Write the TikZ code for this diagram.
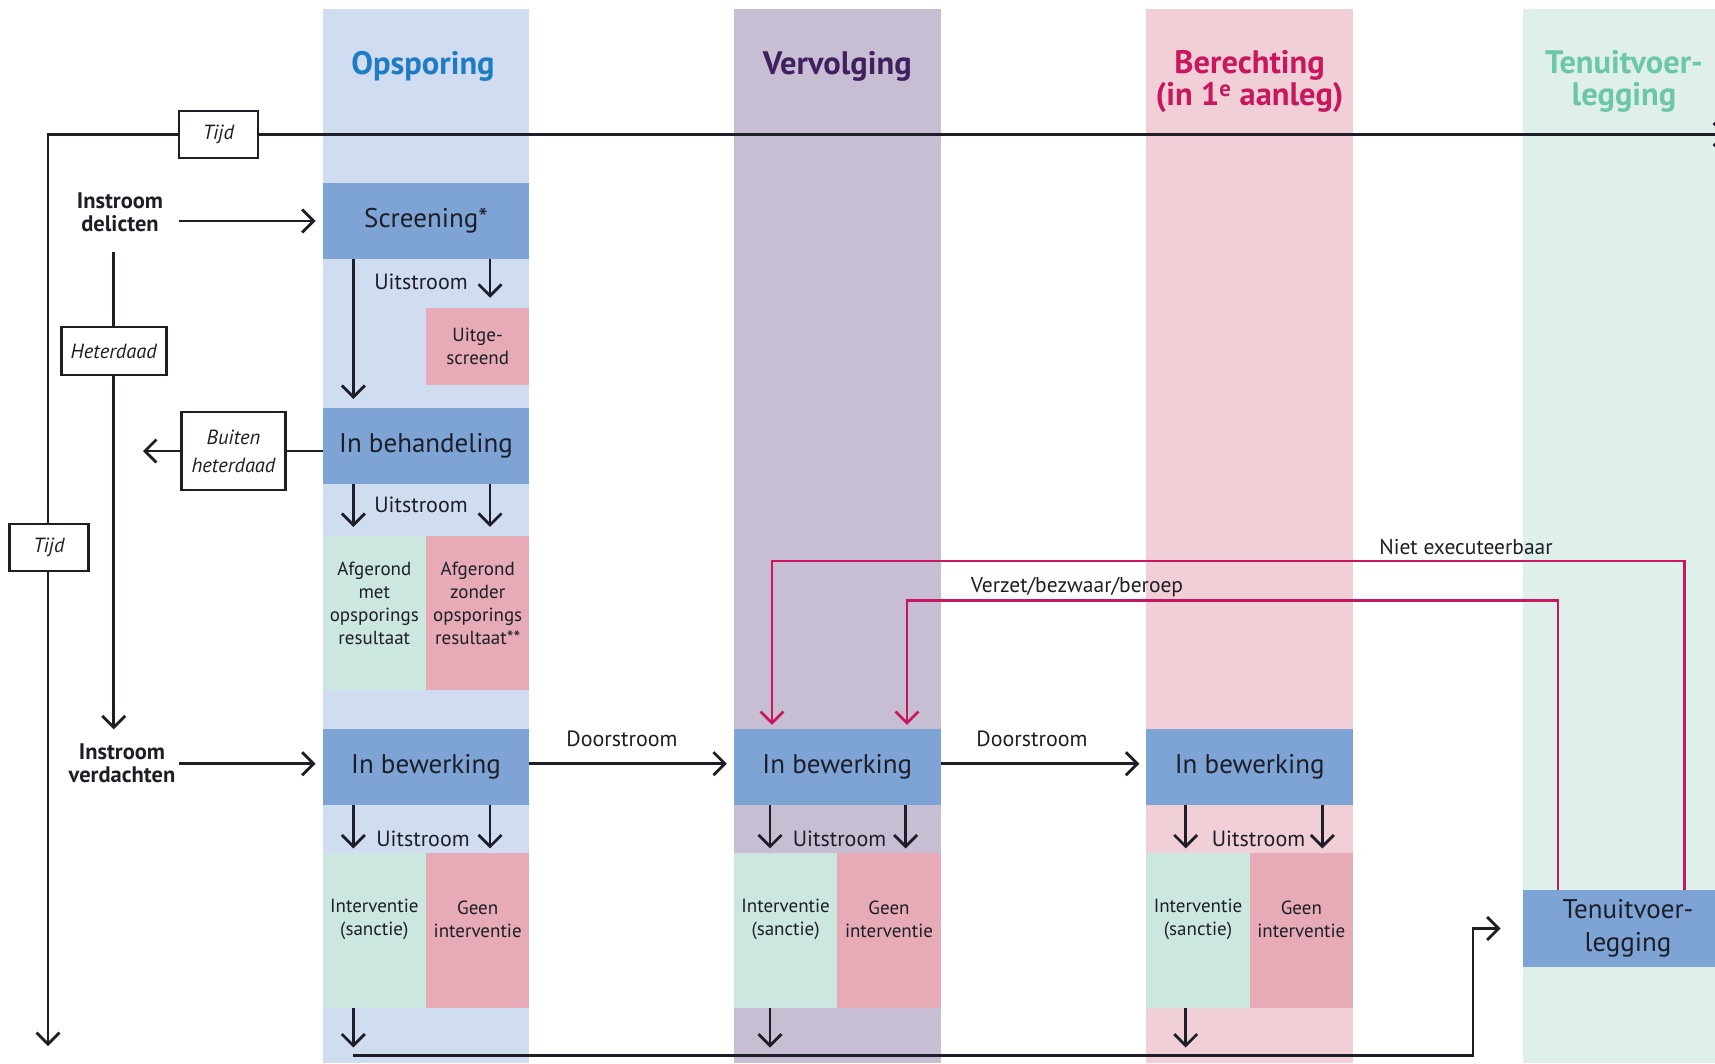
\documentclass[tikz,border=0pt]{standalone}
\usepackage{fontspec}
\setmainfont{PT Sans}
\usetikzlibrary{arrows.meta}
\definecolor{opsbg}{HTML}{D0DCEF}
\definecolor{vervbg}{HTML}{C7BED3}
\definecolor{berbg}{HTML}{F0D0D6}
\definecolor{tenbg}{HTML}{DFF0EA}
\definecolor{boxblue}{HTML}{7EA3D5}
\definecolor{greenbox}{HTML}{CCE7E0}
\definecolor{pinkbox}{HTML}{E6ABB6}
\definecolor{redline}{HTML}{C8175E}
\definecolor{opsc}{HTML}{1F7CC4}
\definecolor{vervc}{HTML}{42205F}
\definecolor{berc}{HTML}{C8175E}
\definecolor{tenc}{HTML}{6CC6A9}
\definecolor{textc}{HTML}{1E1E28}
\begin{document}
\begin{tikzpicture}[x=1pt,y=-1pt,
  line/.style={line width=2.8pt, draw=textc},
  arr/.style={line, -{Straight Barb[length=11.5pt,width=23pt]}},
  redarr/.style={line width=2.7pt, draw=redline, -{Straight Barb[length=11.5pt,width=23pt]}},
  hdr/.style={font=\fontsize{32.5}{31.5}\selectfont\bfseries, align=center},
  bluebox/.style={fill=boxblue, minimum width=206.7pt, minimum height=76.5pt, inner sep=0pt, outer sep=0pt, text=textc, font=\fontsize{27}{33}\selectfont, align=center},
  subbox/.style={minimum width=103.35pt, inner sep=0pt, outer sep=0pt, anchor=north west},
  subtxt/.style={text=textc, font=\fontsize{19}{23}\selectfont, align=center, inner sep=0pt},
  flowlbl/.style={text=textc, font=\fontsize{22}{24}\selectfont, inner sep=0pt},
  tagbox/.style={draw=textc, line width=2.8pt, fill=white, inner sep=0pt, text=textc, font=\fontsize{20.5}{28}\selectfont\itshape, align=center},
  inlbl/.style={text=textc, font=\fontsize{22.5}{23}\selectfont\bfseries, align=center, inner sep=0pt}
]
\clip (0,0) rectangle (1715,1063);
\fill[white] (0,0) rectangle (1715,1063);
% columns
\fill[opsbg] (322.7,9) rectangle (529.4,1063);
\fill[vervbg] (733.9,9) rectangle (940.6,1063);
\fill[berbg] (1146.3,9) rectangle (1353,1063);
\fill[tenbg] (1522.5,9) rectangle (1715,1063);
% headers
\node[hdr, text=opsc] (hops) at (423,66) {Opsporing};
\node[hdr, text=vervc] (hverv) at (837.3,66) {Vervolging};
\node[hdr, text=berc] (hber) at (1249.6,81.5) {Berechting\\(in 1\textsuperscript{e} aanleg)};
\node[hdr, text=tenc] (hten) at (1624,81.5) {Tenuitvoer-\\legging};
% time axis
\coordinate (corner) at (48,134.5);
\coordinate (tend) at (1727,134.5);
\coordinate (vend) at (48,1046);
\node[tagbox, minimum width=79pt, minimum height=47pt] (tijdT) at (218.5,134.5) {Tijd};
\node[tagbox, minimum width=79pt, minimum height=47pt] (tijdL) at (49,547.5) {Tijd};
\draw[line] (tijdL.north -| corner) -- (corner) -- (tijdT.west);
\draw[arr] (tijdT.east) -- (tend);
\draw[arr] (tijdL.south -| corner) -- (vend);
% Opsporing boxes
\node[bluebox] (scr) at (426,221) {Screening*};
\node[bluebox] (inb) at (426,446.2) {In behandeling};
\node[bluebox] (ib1) at (426,767.2) {In bewerking};
\node[subbox, fill=pinkbox, minimum height=77pt] (uitg) at (426,308) {};
\node[subtxt] at (uitg.center) {Uitge-\\screend};
\node[subbox, fill=greenbox, minimum height=154pt] (afm) at (322.7,536) {};
\node[subbox, fill=pinkbox, minimum height=154pt] (afz) at (426,536) {};
\node[subtxt] at (374.3,603.5) {Afgerond\\met\\opsporings\\resultaat};
\node[subtxt] at (477.7,603.5) {Afgerond\\zonder\\opsporings\\resultaat**};
\node[subbox, fill=greenbox, minimum height=154.5pt] (iv1) at (322.7,853) {};
\node[subbox, fill=pinkbox, minimum height=154.5pt] (gi1) at (426,853) {};
\node[subtxt] at (374.3,919.5) {Interventie\\(sanctie)};
\node[subtxt] at (477.7,919.5) {Geen\\interventie};
% Vervolging
\node[bluebox] (ib2) at (837.3,767.2) {In bewerking};
\node[subbox, fill=greenbox, minimum height=154.5pt] (iv2) at (733.9,853) {};
\node[subbox, fill=pinkbox, minimum height=154.5pt] (gi2) at (837.3,853) {};
\node[subtxt] at (785.6,919.5) {Interventie\\(sanctie)};
\node[subtxt] at (889,919.5) {Geen\\interventie};
% Berechting
\node[bluebox] (ib3) at (1249.7,767.2) {In bewerking};
\node[subbox, fill=greenbox, minimum height=154.5pt] (iv3) at (1146.3,853) {};
\node[subbox, fill=pinkbox, minimum height=154.5pt] (gi3) at (1249.7,853) {};
\node[subtxt] at (1198,919.5) {Interventie\\(sanctie)};
\node[subtxt] at (1301.3,919.5) {Geen\\interventie};
% Tenuitvoerlegging
\node[bluebox, minimum width=211pt] (ten) at (1628,928.5) {Tenuitvoer-\\legging};
% inflow labels
\node[inlbl] (ind) at (120,212) {Instroom\\delicten};
\node[inlbl] (inv) at (122,763) {Instroom\\verdachten};
\node[tagbox, minimum width=105pt, minimum height=48pt] (het) at (113.75,351) {Heterdaad};
\node[tagbox, minimum width=104pt, minimum height=78pt] (bh) at (233.5,451) {Buiten\\heterdaad};
\coordinate (bhend) at (143,451);
% inflow arrows
\coordinate (xin) at (179,0);
\draw[arr, shorten >=7pt] (xin |- scr.west) -- (scr.west);
\draw[arr, shorten >=7pt] ([yshift=3.5pt]xin |- ib1.west) -- ([yshift=3.5pt]ib1.west);
\draw[line] (het.north |- 0,251.6) -- (het.north);
\draw[arr, shorten >=14pt] (het.south) -- (het.south |- inv.north);
\draw[line] (inb.west |- bh.east) -- (bh.east);
\draw[arr] (bh.west) -- (bhend);
% Uitstroom screening
\coordinate (xa) at (353.3,0);
\coordinate (xb) at (490,0);
\draw[arr, shorten >=9pt] (scr.south -| xa) -- (inb.north -| xa);
\draw[arr] (scr.south -| xb) -- ++(0,38.5);
\node[flowlbl] at (421,282) {Uitstroom};
% Uitstroom in behandeling
\draw[arr] (inb.south -| xa) -- ++(0,42.5);
\draw[arr] (inb.south -| xb) -- ++(0,42.5);
\node[flowlbl] at (421,505) {Uitstroom};
% Uitstroom in bewerking ops
\draw[arr] (ib1.south -| xa) -- ++(0,43);
\draw[arr] (ib1.south -| xb) -- ++(0,43);
\node[flowlbl] at (423,839) {Uitstroom};
% Vervolging uitstroom
\coordinate (xc) at (770,0);
\coordinate (xd) at (905.6,0);
\draw[arr] (ib2.south -| xc) -- ++(0,43);
\draw[arr] (ib2.south -| xd) -- ++(0,43);
\node[flowlbl] at (839.5,839) {Uitstroom};
% Berechting uitstroom
\coordinate (xe) at (1185.7,0);
\coordinate (xf) at (1322.4,0);
\draw[arr] (ib3.south -| xe) -- ++(0,43);
\draw[arr] (ib3.south -| xf) -- ++(0,43);
\node[flowlbl] at (1258.5,839) {Uitstroom};
% Doorstroom
\draw[arr, shorten >=7pt] ([yshift=3.5pt]ib1.east) -- ([yshift=3.5pt]ib2.west);
\node[flowlbl] at (622,739) {Doorstroom};
\draw[arr, shorten >=7pt] ([yshift=3.5pt]ib2.east) -- ([yshift=3.5pt]ib3.west);
\node[flowlbl] at (1032,739) {Doorstroom};
% bottom outflow
\coordinate (bl) at (353.3,1055.5);
\coordinate (br) at (1473,1055.5);
\draw[arr, shorten >=8pt] (iv1.south -| xa) -- (bl);
\draw[arr, shorten >=8pt] (iv2.south -| xc) -- (bl -| xc);
\draw[arr, shorten >=8pt] (iv3.south -| xe) -- (bl -| xe);
\draw[arr, shorten >=22pt] (bl) -- (br) -- (br |- ten.west) -- (ten.west);
% red feedback loops
\coordinate (ra) at (1684.5,0);
\coordinate (rb) at (1558,0);
\coordinate (ya) at (0,561);
\coordinate (yb) at (0,600.5);
\coordinate (xg) at (772,0);
\coordinate (xh) at (907,0);
\draw[redarr, shorten >=4pt] (ten.north -| ra) -- (ra |- ya) -- (xg |- ya) -- (ib2.north -| xg);
\draw[redarr, shorten >=4pt] (ten.north -| rb) -- (rb |- yb) -- (xh |- yb) -- (ib2.north -| xh);
\node[flowlbl, font=\fontsize{21.5}{24}\selectfont] at (1466,547) {Niet executeerbaar};
\node[flowlbl, font=\fontsize{21.5}{24}\selectfont] at (1077,587) {Verzet/bezwaar/beroep};
\end{tikzpicture}
\end{document}
